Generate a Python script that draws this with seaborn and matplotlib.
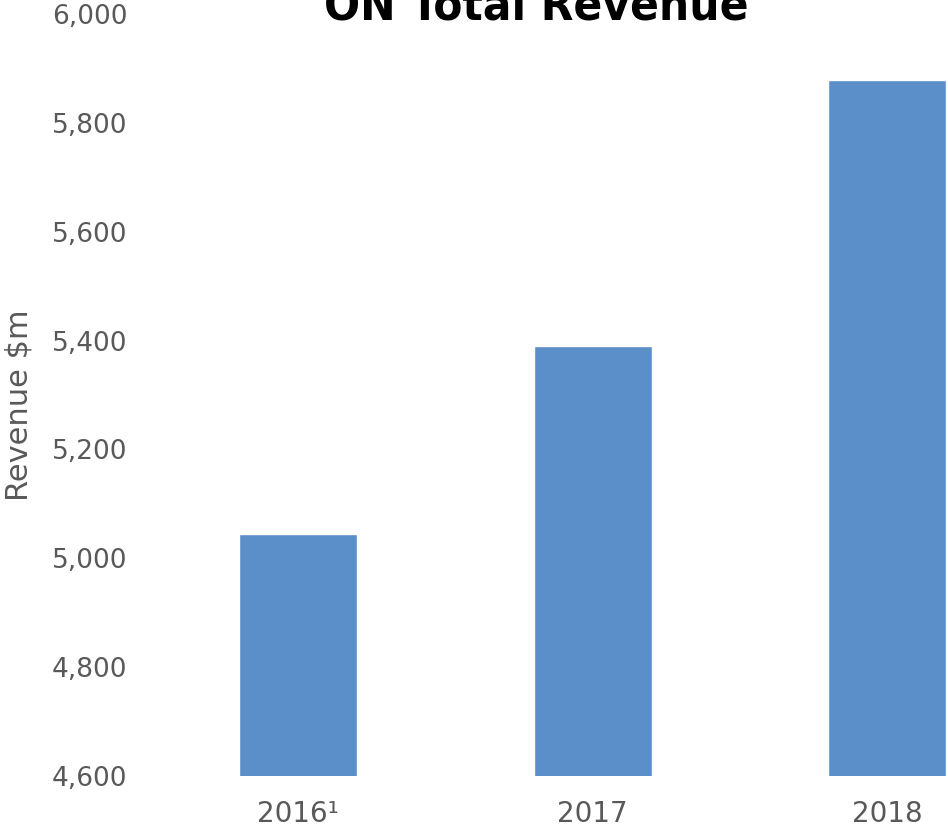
import matplotlib
matplotlib.use("Agg")
import matplotlib.pyplot as plt
import seaborn as sns
import pandas as pd
from matplotlib.ticker import FuncFormatter

# Revenue by year ($m)
years = ["2016¹", "2017", "2018"]
revenue = [5045, 5390, 5878]
y_ticks = [4600, 4800, 5000, 5200, 5400, 5600, 5800, 6000]

sns.set_theme(style="white")
plt.rcParams["font.family"] = ["DejaVu Sans"]

df = pd.DataFrame({"year": years, "revenue": revenue})

fig = plt.figure(figsize=(9.48, 8.31), dpi=100)
ax = fig.add_axes([0.1593, 0.0662, 0.8386, 0.917])

sns.barplot(data=df, x="year", y="revenue", color="#5B8FCA", saturation=1,
            width=0.4, ax=ax)

ax.set_ylim(4600, 6000)
ax.set_xlim(-0.5, 2.2)
ax.set_yticks(y_ticks)
ax.yaxis.set_major_formatter(FuncFormatter(lambda v, p: f"{int(v):,}"))
ax.tick_params(axis="y", length=0, pad=17, labelsize=19, labelcolor="#595959")
ax.tick_params(axis="x", length=0, pad=17, labelsize=20, labelcolor="#595959")
ax.set_xlabel("")
ax.set_ylabel("Revenue $m", fontsize=22, color="#595959")
ax.yaxis.set_label_coords(-0.148, 0.486)
for s in ax.spines.values():
    s.set_visible(False)
ax.grid(False)

fig.text(536 / 948, 1 - 20 / 831, "ON Total Revenue", ha="center", va="baseline",
         fontsize=34, fontweight="heavy", fontstretch="condensed", color="black",
         family=["DejaVu Sans"])

fig.savefig("out.png", dpi=100)
